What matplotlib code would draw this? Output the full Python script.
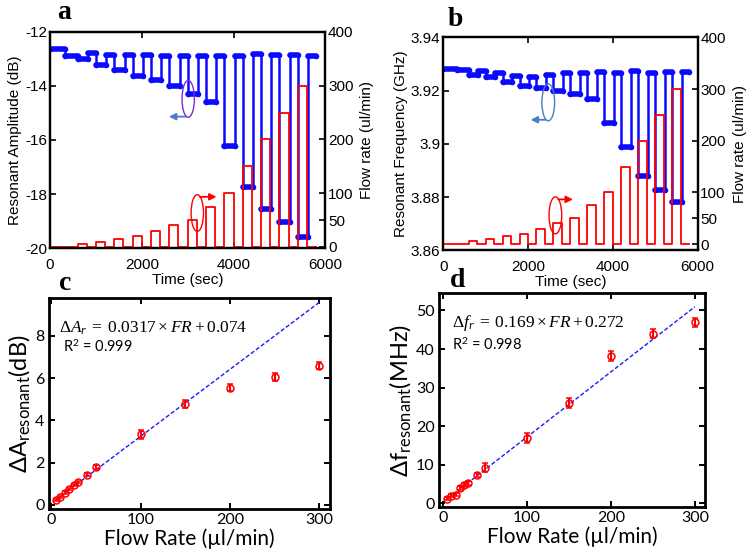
import matplotlib
matplotlib.use('Agg')
import matplotlib.pyplot as plt
from matplotlib.patches import Ellipse
from matplotlib.ticker import FuncFormatter

plt.rcParams['axes.unicode_minus'] = False
plt.rcParams['mathtext.fontset'] = 'custom'
plt.rcParams['mathtext.rm'] = 'Liberation Serif'
plt.rcParams['mathtext.it'] = 'Liberation Serif:italic'
plt.rcParams['mathtext.bf'] = 'Liberation Serif:bold'
plt.rcParams['mathtext.sf'] = 'Lato'

# ---- flow schedule shared by panels a and b ----
step_start = [600, 1000, 1400, 1800, 2200, 2600, 3000, 3400, 3800, 4200, 4600, 5000, 5400]
step_len = 200
t_end = 5800
flow_rates = [5, 10, 15, 20, 30, 40, 50, 75, 100, 150, 200, 250, 300]

# blue traces: start time of each plateau and its level
seg_t = [0, 330, 600, 825, 1000, 1225, 1400, 1625, 1800, 2025, 2200, 2425, 2600, 2825,
         3000, 3225, 3400, 3625, 3800, 4025, 4200, 4425, 4600, 4825, 5000, 5225, 5400, 5625]
amp_lvl = [-12.62, -12.90, -13.02, -12.78, -13.23, -12.84, -13.42, -12.84, -13.62, -12.84,
           -13.79, -12.88, -13.99, -12.88, -14.30, -12.88, -14.60, -12.88, -16.23, -12.88,
           -17.75, -12.81, -18.54, -12.86, -19.05, -12.86, -19.59, -12.88]
freq_lvl = [3.9281, 3.9276, 3.9260, 3.9275, 3.9250, 3.9265, 3.9231, 3.9256, 3.9219, 3.9253,
            3.9210, 3.9260, 3.9200, 3.9265, 3.9188, 3.9265, 3.9169, 3.9270, 3.9078, 3.9268,
            3.8988, 3.9273, 3.8880, 3.9268, 3.8825, 3.9271, 3.8780, 3.9271]

# ---- calibration panels c and d ----
fr = [5, 10, 15, 20, 25, 30, 40, 50, 100, 150, 200, 250, 300]
dA = [0.24, 0.39, 0.58, 0.76, 0.95, 1.07, 1.42, 1.78, 3.34, 4.76, 5.54, 6.04, 6.58]
dA_err = [0.05, 0.05, 0.05, 0.05, 0.05, 0.06, 0.07, 0.10, 0.22, 0.20, 0.16, 0.19, 0.16]
df = [1.2, 2.0, 2.2, 4.0, 4.75, 5.2, 7.3, 9.25, 16.9, 26.0, 38.1, 44.0, 46.9]
df_err = [0.4, 0.4, 0.4, 0.5, 0.5, 0.5, 0.6, 1.1, 1.3, 1.2, 1.3, 1.1, 1.2]
fit_A = (0.0317, 0.074)
fit_f = (0.169, 0.272)


def plateau_path(starts, levels, end):
    x, y = [], []
    for i, v in enumerate(levels):
        t1 = starts[i + 1] if i + 1 < len(starts) else end
        x += [starts[i], t1]
        y += [v, v]
    return x, y


def flow_path():
    x, y = [0], [0]
    for s, f in zip(step_start, flow_rates):
        x += [s, s, s + step_len, s + step_len]
        y += [0, f, f, 0]
    x.append(t_end)
    y.append(0)
    return x, y


sans = ['Liberation Sans', 'DejaVu Sans']
cal = ['Lato', 'DejaVu Sans']

fig = plt.figure(figsize=(7.5, 5.5), dpi=100)


def time_panel(rect, levels, ylim, yticks, ylabel, right_lim, ell, ell_color):
    ax = fig.add_axes(rect)
    ax2 = ax.twinx()
    bx, by = plateau_path(seg_t, levels, t_end)
    ax.plot(bx, by, color='#0a0aff', lw=1.8, marker='o', ms=3)
    for i in range(0, len(bx), 2):
        ax.plot(bx[i:i + 2], by[i:i + 2], color='#0a0aff', lw=4, solid_capstyle='round')
    fx, fy = flow_path()
    ax2.plot(fx, fy, color='red', lw=1.3)
    ax.set_xlim(0, 6000)
    ax.set_ylim(*ylim)
    ax.set_yticks(yticks)
    ax.yaxis.set_major_formatter(FuncFormatter(lambda v, p: '{:g}'.format(round(v, 4))))
    ax.set_xticks([0, 2000, 4000, 6000])
    ax2.set_ylim(*right_lim)
    ax2.set_yticks([0, 50, 100, 200, 300, 400])
    ax.tick_params(direction='in', top=True, length=4, width=1.2, labelsize=11, pad=2)
    ax.tick_params(axis='x', pad=7)
    ax2.tick_params(direction='in', length=4, width=1.2, labelsize=11, pad=2)
    for a in (ax, ax2):
        for lab in a.get_xticklabels() + a.get_yticklabels():
            lab.set_family(sans)
        for sp in a.spines.values():
            sp.set_linewidth(1.6)
    ax.set_xlabel('Time (sec)', family=sans, fontsize=11, labelpad=1)
    ax.set_ylabel(ylabel, family=sans, fontsize=11, labelpad=2)
    ax2.set_ylabel('Flow rate (ul/min)', family=sans, fontsize=11, labelpad=5)
    # indicator ellipses and arrows
    (bx0, by0, bw, bh), (rx0, ry0) = ell
    ax2.add_patch(Ellipse((bx0, by0), bw, bh, transform=ax.transAxes, fill=False,
                          ec=ell_color, lw=1.0, zorder=5))
    ax2.annotate('', xy=(bx0 - 0.08, by0 - 0.082), xytext=(bx0, by0 - 0.082),
                 xycoords=ax.transAxes,
                 arrowprops=dict(arrowstyle='-|>', color='#4a7cc7', lw=1.3, mutation_scale=10))
    ax2.add_patch(Ellipse((rx0, ry0), bw, bh, transform=ax.transAxes, fill=False,
                          ec='red', lw=1.0, zorder=5))
    ax2.annotate('', xy=(rx0 + 0.08, ry0 + 0.075), xytext=(rx0, ry0 + 0.075),
                 xycoords=ax.transAxes,
                 arrowprops=dict(arrowstyle='-|>', color='red', lw=1.3, mutation_scale=10))
    return ax


time_panel([0.0667, 0.549, 0.367, 0.393], amp_lvl, (-20, -12),
           [-20, -18, -16, -14, -12], 'Resonant Amplitude (dB)', (-2, 400),
           ((0.502, 0.69, 0.045, 0.17), (0.535, 0.162)), '#7a2be0')
time_panel([0.591, 0.545, 0.339, 0.387], freq_lvl, (3.86, 3.94),
           [3.86, 3.88, 3.90, 3.92, 3.94], 'Resonant Frequency (GHz)', (-12, 400),
           ((0.413, 0.695, 0.05, 0.174), (0.441, 0.164)), '#4a7cc7')


def cal_panel(rect, y, yerr, fit, ylim, yticks, xlim, ylabel, eq, eq_pos, r2, r2_pos):
    ax = fig.add_axes(rect)
    x0, x1 = min(fr), max(fr)
    ax.plot([x0, x1], [fit[0] * x0 + fit[1], fit[0] * x1 + fit[1]], color='#1a1aff',
            lw=1.0, ls=(0, (3, 1.5)))
    ax.errorbar(fr, y, yerr=yerr, fmt='o', color='red', mfc='none', ms=5, mew=1.1,
                elinewidth=1.5, capsize=2, capthick=1.2)
    ax.set_xlim(*xlim)
    ax.set_ylim(*ylim)
    ax.set_xticks([0, 100, 200, 300])
    ax.set_yticks(yticks)
    ax.tick_params(direction='in', top=True, right=True, length=4, width=1.4,
                   labelsize=11.5, pad=3)
    for lab in ax.get_xticklabels() + ax.get_yticklabels():
        lab.set_family(cal)
    for sp in ax.spines.values():
        sp.set_linewidth(2.0)
    ax.set_xlabel('Flow Rate (µl/min)', family=cal, fontsize=15, labelpad=1)
    ax.set_ylabel(ylabel, family=cal, fontsize=17, labelpad=2)
    ax.text(eq_pos[0], eq_pos[1], eq, transform=ax.transAxes, fontsize=12.5, va='center')
    ax.text(r2_pos[0], r2_pos[1], r2, transform=ax.transAxes, family=cal, fontsize=10.5,
            va='center')
    return ax


cal_panel([0.065, 0.0745, 0.375, 0.384], dA, dA_err, fit_A, (-0.2, 9.8), [0, 2, 4, 6, 8],
          (-3, 312), 'ΔA$_\\mathsf{resonant}$(dB)',
          r'$\Delta A_r\;=\;0.0317\times FR+0.074$', (0.036, 0.858),
          'R$^\\mathsf{2}$ = 0.999', (0.05, 0.77))
cal_panel([0.585, 0.078, 0.355, 0.389], df, df_err, fit_f, (-1, 54.5),
          [0, 10, 20, 30, 40, 50], (-5, 312), 'Δf$_\\mathsf{resonant}$(MHz)',
          r'$\Delta f_r\;=\;0.169\times FR+0.272$', (0.049, 0.86),
          'R$^\\mathsf{2}$ = 0.998', (0.049, 0.757))

# panel letters
for letter, px, py in [('a', 64, 19), ('b', 455, 26), ('c', 65, 290), ('d', 458, 287)]:
    fig.text(px / 750, 1 - py / 550, letter, ha='center', va='baseline',
             family='Liberation Serif', weight='bold', fontsize=20)

fig.savefig('out.png', dpi=100)
